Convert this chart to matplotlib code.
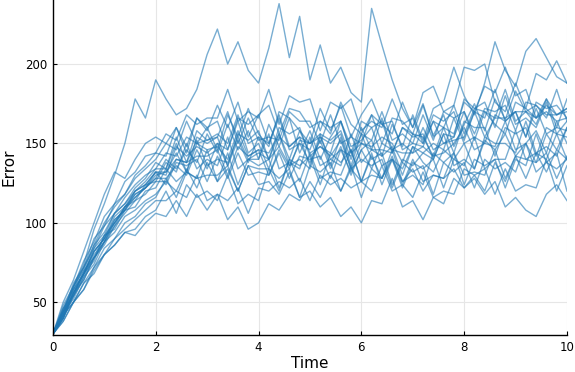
import numpy as np
import matplotlib
matplotlib.use("Agg")
import matplotlib.pyplot as plt

# time grid (step 0.2) and error paths
time = np.round(np.arange(0, 10.01, 0.2), 1)

paths = [
    [30,44,60,74,96,112,130,150,178,166,190, 178,168,172,184,206,222,200,214,196,188,
     210,238,204,230,190,212,188,198,182,176, 235,212,190,172,160,175,155,168,148,162,
     175,158,178,165,183,170,162,178,168,172],
    [30,42,56,64,78,88,98,110,118,122,128, 140,134,146,138,156,144,162,146,158,140,
     162,148,166,144,158,140,154,164,148,152, 160,142,162,148,168,152,172,176,198,180,
     168,188,214,196,186,208,216,204,192,188],
    [30,46,60,72,86,100,110,118,128,134,140, 150,146,164,150,160,146,168,154,172,156,
     148,170,166,158,150,172,158,174,154,168, 178,162,156,176,160,182,186,170,174,198,
     196,200,176,170,188,172,194,190,202,188],
    [30,38,50,58,70,80,86,94,92,100,106, 104,114,104,118,108,118,102,110,96,100,
     112,108,118,114,126,116,130,120,134,126, 142,128,140,134,148,138,132,146,140,150,
     134,152,146,156,142,150,138,156,146,160],
    [30,44,52,66,74,88,94,104,108,114,118, 126,120,134,122,138,126,134,120,136,124,
     126,118,132,116,120,110,116,104,110,100, 114,112,128,110,114,102,116,112,128,122,
     130,120,138,126,142,128,144,132,146,140],
    [30,42,56,68,78,88,100,108,116,122,128, 128,136,130,146,134,150,136,152,138,154,
     140,148,136,150,138,152,134,148,130,146, 152,136,140,126,134,120,130,128,134,122,
     128,118,126,110,116,108,104,118,124,114],
    [30,50,64,82,100,118,132,128,140,150,154, 150,160,148,166,158,174,160,176,154,168,
     174,156,172,170,160,164,156,176,162,156, 168,150,166,164,156,150,164,160,174,156,
     172,170,162,156,176,172,166,178,160,178],
    [30,40,56,68,82,90,100,110,116,122,130, 132,144,132,150,146,148,140,158,142,146,
     144,156,140,158,144,148,142,152,134,150, 148,154,150,138,156,154,142,144,150,160,
     146,150,148,164,146,150,158,144,164,150],
    [30,42,50,62,72,84,90,100,104,112,116, 128,116,132,128,130,130,136,120,136,134,
     134,120,140,126,144,128,132,130,146,126, 130,128,142,124,140,126,130,128,144,130,
     132,130,146,128,142,140,138,144,128,142],
    [30,44,58,68,84,92,106,112,120,124,132, 124,138,136,140,126,142,128,144,130,132,
     130,144,128,142,140,142,128,146,132,146, 134,150,146,144,144,160,146,150,154,170,
     156,172,170,174,158,176,174,168,168,172],
    [30,46,58,72,84,98,106,116,124,130,134, 144,142,154,150,152,154,170,150,166,152,
     154,152,170,164,164,150,168,150,154,150, 168,162,164,146,150,148,164,150,152,154,
     170,154,166,166,170,154,172,156,160,158],
    [30,40,54,64,78,86,98,106,114,118,126, 126,140,138,142,142,146,130,148,142,146,
     130,146,134,152,150,154,140,146,142,160, 146,146,144,160,154,156,140,156,154,178,
     172,176,160,180,162,166,160,176,156,164],
    [30,38,50,58,72,80,90,96,102,108,114, 114,120,116,130,114,118,114,122,106,122,
     120,126,122,128,114,130,124,128,122,126, 120,136,120,124,116,132,116,120,118,134,
     130,134,118,134,120,124,122,140,120,136],
    [30,48,60,76,88,104,112,126,132,142,144, 156,152,168,162,166,166,184,164,170,166,
     184,162,180,176,178,158,176,172,178,158, 164,160,178,162,166,150,168,164,170,152,
     170,166,184,164,170,170,174,166,184,164],
    [30,40,56,68,82,90,102,108,118,122,132, 132,140,138,152,136,140,138,154,140,144,
     140,156,136,140,134,154,150,156,136,156, 140,144,124,140,136,144,140,156,136,140,
     134,154,150,150,144,164,144,148,142,160],
    [30,44,54,68,76,92,96,108,110,120,122, 134,126,132,128,146,126,144,124,140,136,
     140,122,140,136,142,124,144,138,146,126, 144,124,140,122,138,134,140,122,140,136,
     154,134,140,140,158,140,144,140,156,140],
    [30,42,60,70,86,94,106,112,122,128,138, 134,154,138,158,152,156,150,168,150,154,
     150,166,146,150,146,164,160,164,144,164, 160,164,144,160,156,174,154,160,156,176,
     170,186,182,198,180,184,166,170,164,166],
    [30,42,50,62,68,80,86,94,96,104,108, 120,106,124,116,120,114,130,112,118,114,
     134,128,134,116,136,132,138,120,136,116, 134,128,146,126,130,124,144,138,144,124,
     140,136,140,122,140,136,156,138,144,120],
    [30,40,58,68,82,90,104,110,120,126,134, 134,150,132,154,150,154,136,156,152,158,
     140,160,156,160,142,148,144,164,144,150, 146,166,146,150,144,148,142,160,144,164,
     160,160,142,160,156,160,142,160,156,154],
    [30,46,54,70,78,92,100,110,114,124,126, 138,132,150,134,140,136,154,134,140,140,
     156,134,138,134,154,136,140,136,156,138, 146,142,148,130,148,144,150,146,166,150,
     154,150,168,164,170,154,176,172,174,166],
    [30,44,62,72,90,98,112,118,130,136,144, 142,160,144,166,160,164,146,166,162,168,
     150,168,148,154,150,156,136,154,134,140, 136,140,122,138,132,136,118,138,132,138,
     122,140,134,138,132,150,132,138,134,140],
    [30,40,54,66,80,88,102,108,120,124,132, 130,148,142,148,144,150,146,164,144,150,
     134,154,148,154,136,156,152,158,140,156, 152,170,152,156,150,168,152,170,166,170,
     152,170,166,184,164,170,166,174,168,170],
]

fig = plt.figure(figsize=(5.75, 3.72), dpi=100)
ax = fig.add_axes([0.092, 0.0995, 0.894, 0.9005])

for p in paths:
    ax.plot(time, p, color="#1f77b4", alpha=0.6, lw=1.0)

ax.set_xlim(0, 10)
ax.set_ylim(29.4, 240.3)
ax.set_xticks([0, 2, 4, 6, 8, 10])
ax.set_yticks([50, 100, 150, 200])
ax.grid(True, color="#e6e6e6", lw=0.8)
ax.set_axisbelow(True)
for s in ["top", "right"]:
    ax.spines[s].set_visible(False)
for s in ["left", "bottom"]:
    ax.spines[s].set_color("black")
    ax.spines[s].set_linewidth(1.0)
ax.tick_params(direction="in", length=3, labelsize=8.5, pad=4)
ax.set_xlabel("Time", fontsize=11, labelpad=2)
ax.set_ylabel("Error", fontsize=11, labelpad=6)

fig.savefig("out.png", dpi=100)
